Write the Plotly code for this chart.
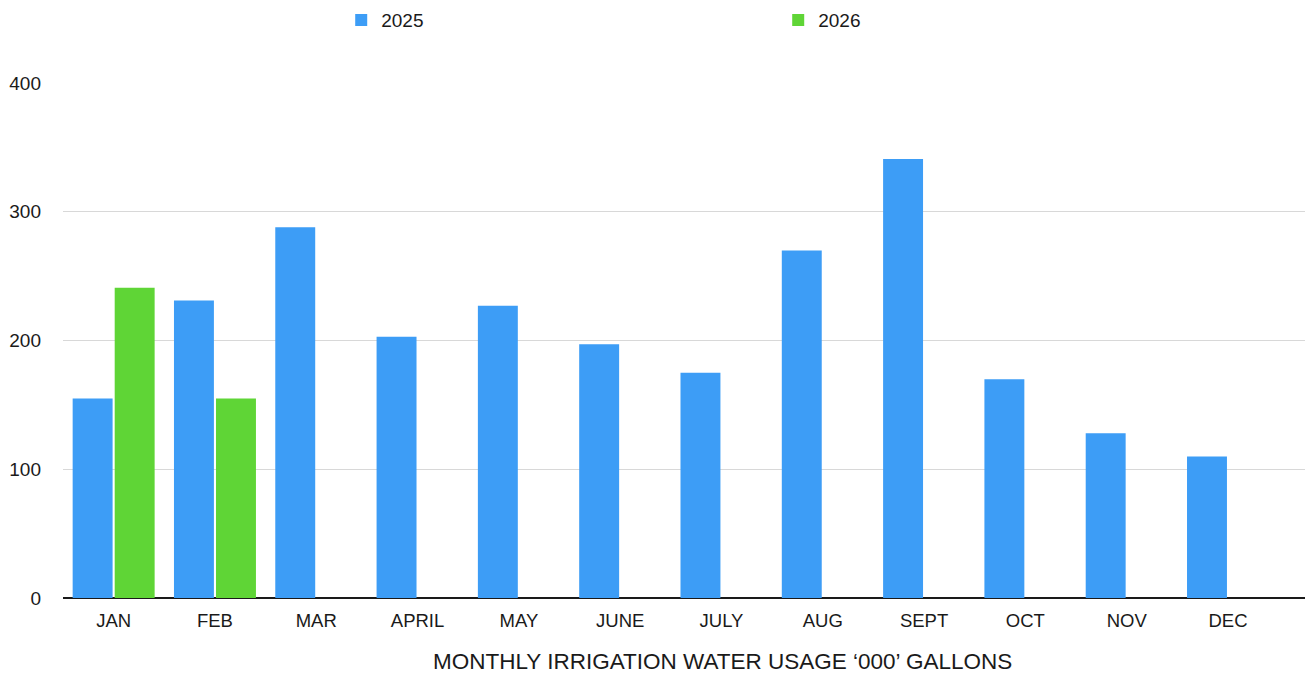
import plotly.graph_objects as go

months = ["JAN", "FEB", "MAR", "APRIL", "MAY", "JUNE", "JULY", "AUG", "SEPT", "OCT", "NOV", "DEC"]
usage_2025 = [155, 231, 288, 203, 227, 197, 175, 270, 341, 170, 128, 110]
usage_2026 = [241, 155, None, None, None, None, None, None, None, None, None, None]
y_ticks = [0, 100, 200, 300, 400]
x_title = "MONTHLY IRRIGATION WATER USAGE \u2018000\u2019 GALLONS"

FONT = "Liberation Sans, Arial, Helvetica, sans-serif"
INK = "#1a1a1a"

fig = go.Figure()
fig.add_trace(go.Bar(x=months, y=usage_2025, name="2025",
                     marker=dict(color="#3d9df6", line=dict(width=0))))
fig.add_trace(go.Bar(x=months, y=usage_2026, name="2026",
                     marker=dict(color="#5fd536", line=dict(width=0))))

fig.update_layout(
    width=1309, height=676,
    margin=dict(l=63, r=4, t=83, b=78, autoexpand=False),
    paper_bgcolor="white", plot_bgcolor="white",
    barmode="group", bargap=0.17, bargroupgap=0.05,
    font=dict(family=FONT, size=18, color=INK),
    showlegend=True,
    legend=dict(orientation="h", x=0.224, xanchor="left", y=1.122, yanchor="middle",
                entrywidth=392, entrywidthmode="pixels",
                font=dict(size=19, color=INK), itemsizing="constant"),
    xaxis=dict(
        type="category", range=[-0.5, 11.76],
        showgrid=False, ticks="", showline=False,
        tickfont=dict(size=18.5), ticklabelstandoff=9, automargin=False,
    ),
    yaxis=dict(
        range=[0, 400], tickvals=y_ticks, ticktext=[str(v) for v in y_ticks],
        showgrid=True, gridcolor="#d8d8d8", gridwidth=1.3,
        zeroline=True, zerolinecolor=INK, zerolinewidth=2,
        ticks="", ticklabelstandoff=21, tickfont=dict(size=19),
        showline=False, automargin=False,
    ),
    annotations=[dict(
        text=x_title, xref="paper", yref="paper", x=0.531, y=0,
        xanchor="center", yanchor="middle", yshift=-63, showarrow=False,
        font=dict(size=22.5, color=INK),
    )],
)

fig.write_html("out.html")
